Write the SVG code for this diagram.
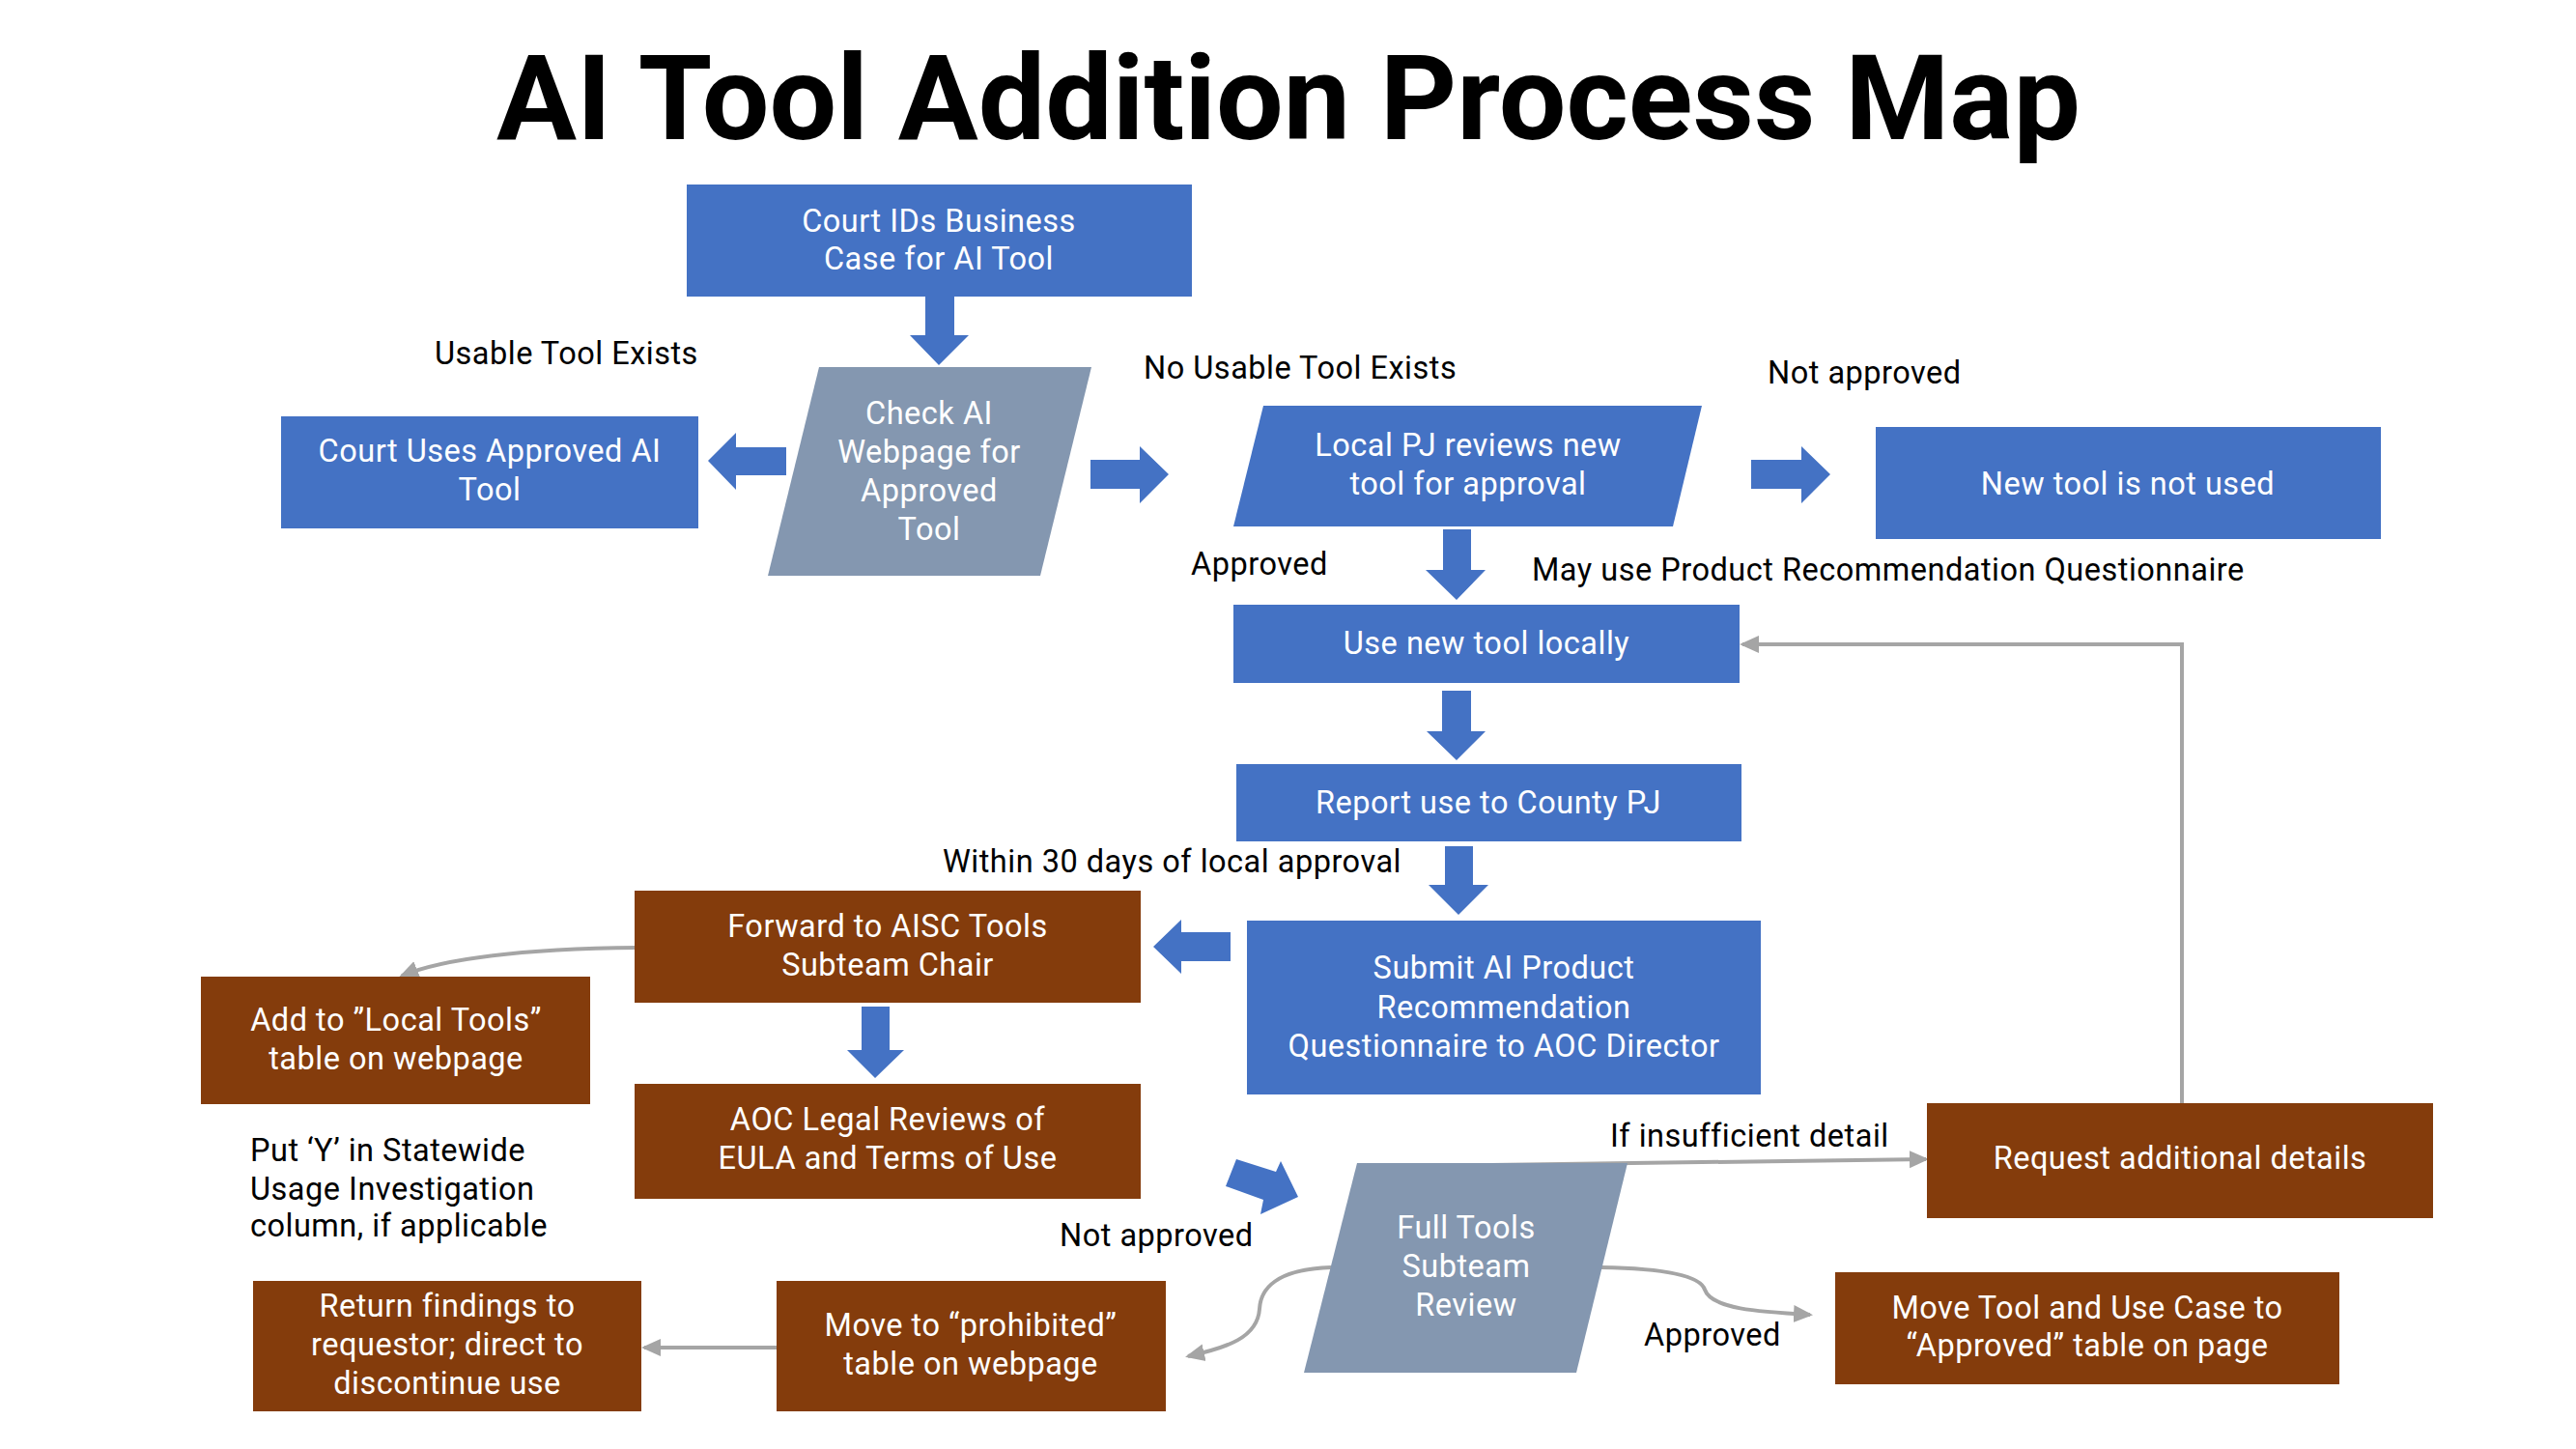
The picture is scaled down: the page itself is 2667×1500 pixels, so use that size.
<svg xmlns="http://www.w3.org/2000/svg" width="2667" height="1500" viewBox="0 0 2667 1500">
<defs>
<style>
.blue{fill:#4472C4}
.brown{fill:#843C0C}
.grayn{fill:#8497B0}
.t{font-family:Roboto,"Liberation Sans",sans-serif;font-size:32.5px;letter-spacing:0.5px;fill:#FFFFFF;text-anchor:middle}
.lbl{font-family:Roboto,"Liberation Sans",sans-serif;font-size:32.5px;letter-spacing:0.5px;fill:#000000}
.title{font-family:Roboto,"Liberation Sans",sans-serif;font-weight:bold;font-size:122px;fill:#000000;text-anchor:middle}
.blk{fill:#4472C4}
.conn{stroke:#A5A5A5;stroke-width:4;fill:none;marker-end:url(#ah)}
</style>
<marker id="ah" markerUnits="userSpaceOnUse" viewBox="0 0 20 20" markerWidth="20" markerHeight="20" refX="17" refY="10" orient="auto">
<path d="M0,1 L20,10 L0,19 z" fill="#A5A5A5"/>
</marker>
</defs>
<rect width="2667" height="1500" fill="#FFFFFF"/>
<text class="title" x="1334" y="144" textLength="1640" lengthAdjust="spacingAndGlyphs">AI Tool Addition Process Map</text>

<g id="connectors">
<polygon class="blk" points="958,307 988,307 988,347 1003,347 972,378 942,347 958,347"/>
<polygon class="blk" points="814,463 814,492 762,492 762,507 733,477 762,448 762,463"/>
<polygon class="blk" points="1129,476 1180,476 1180,462 1210,491 1180,521 1180,506 1129,506"/>
<polygon class="blk" points="1813,476 1865,476 1865,462 1895,491 1865,521 1865,506 1813,506"/>
<polygon class="blk" points="1494,548 1523,548 1523,590 1538,590 1508,621 1476,590 1494,590"/>
<polygon class="blk" points="1493,715 1523,715 1523,757 1538,757 1508,787 1477,757 1493,757"/>
<polygon class="blk" points="1496,876 1525,876 1525,916 1541,916 1510,947 1479,916 1496,916"/>
<polygon class="blk" points="1274,965 1274,995 1223,995 1223,1008 1194,980 1223,952 1223,965"/>
<polygon class="blk" points="892,1042 921,1042 921,1087 936,1087 906,1116 877,1087 892,1087"/>
<polygon class="blk" points="1280,1200 1321,1213 1326,1202 1344,1239 1305,1257 1308,1242 1269,1228"/>
<path class="conn" d="M2259,1142 V667 H1804"/>
<path class="conn" d="M1544,1206 L1994,1200"/>
<path class="conn" d="M660,981 C560,982 465,990 416,1010"/>
<path class="conn" d="M1658,1312 C1720,1313 1760,1320 1765,1335 C1772,1355 1820,1358 1874,1361"/>
<path class="conn" d="M1378,1312 C1320,1314 1305,1335 1304,1355 C1302,1385 1270,1395 1230,1404"/>
<path class="conn" d="M804,1395 H667"/>
</g>

<g id="court-ids">
<rect class="blue" x="711" y="191" width="523" height="116"/>
<text class="t" x="972" y="240">Court IDs Business</text>
<text class="t" x="972" y="279">Case for AI Tool</text>
</g>
<g id="check-webpage">
<polygon class="grayn" points="848,380 1130,380 1077,596 795,596"/>
<text class="t" x="962" y="439">Check AI</text>
<text class="t" x="962" y="479">Webpage for</text>
<text class="t" x="962" y="519">Approved</text>
<text class="t" x="962" y="559">Tool</text>
</g>
<g id="court-uses">
<rect class="blue" x="291" y="431" width="432" height="116"/>
<text class="t" x="507" y="478">Court Uses Approved AI</text>
<text class="t" x="507" y="518">Tool</text>
</g>
<g id="local-pj">
<polygon class="blue" points="1308,420 1762,420 1732,545 1277,545"/>
<text class="t" x="1520" y="472">Local PJ reviews new</text>
<text class="t" x="1520" y="512">tool for approval</text>
</g>
<g id="not-used">
<rect class="blue" x="1942" y="442" width="523" height="116"/>
<text class="t" x="2203" y="512">New tool is not used</text>
</g>
<g id="use-locally">
<rect class="blue" x="1277" y="626" width="524" height="81"/>
<text class="t" x="1539" y="677">Use new tool locally</text>
</g>
<g id="report">
<rect class="blue" x="1280" y="791" width="523" height="80"/>
<text class="t" x="1541" y="842">Report use to County PJ</text>
</g>
<g id="submit">
<rect class="blue" x="1291" y="953" width="532" height="180"/>
<text class="t" x="1557" y="1013">Submit AI Product</text>
<text class="t" x="1557" y="1054">Recommendation</text>
<text class="t" x="1557" y="1094">Questionnaire to AOC Director</text>
</g>
<g id="forward">
<rect class="brown" x="657" y="922" width="524" height="116"/>
<text class="t" x="919" y="970">Forward to AISC Tools</text>
<text class="t" x="919" y="1010">Subteam Chair</text>
</g>
<g id="add-local">
<rect class="brown" x="208" y="1011" width="403" height="132"/>
<text class="t" x="410" y="1067">Add to ”Local Tools”</text>
<text class="t" x="410" y="1107">table on webpage</text>
</g>
<g id="aoc-legal">
<rect class="brown" x="657" y="1122" width="524" height="119"/>
<text class="t" x="919" y="1170">AOC Legal Reviews of</text>
<text class="t" x="919" y="1210">EULA and Terms of Use</text>
</g>
<g id="full-tools">
<polygon class="grayn" points="1405,1204 1685,1204 1632,1421 1350,1421"/>
<text class="t" x="1518" y="1282">Full Tools</text>
<text class="t" x="1518" y="1322">Subteam</text>
<text class="t" x="1518" y="1362">Review</text>
</g>
<g id="request">
<rect class="brown" x="1995" y="1142" width="524" height="119"/>
<text class="t" x="2257" y="1210">Request additional details</text>
</g>
<g id="move-approved">
<rect class="brown" x="1900" y="1317" width="522" height="116"/>
<text class="t" x="2161" y="1365">Move Tool and Use Case to</text>
<text class="t" x="2161" y="1404">“Approved” table on page</text>
</g>
<g id="move-prohibited">
<rect class="brown" x="804" y="1326" width="403" height="135"/>
<text class="t" x="1005" y="1383">Move to “prohibited”</text>
<text class="t" x="1005" y="1423">table on webpage</text>
</g>
<g id="return-findings">
<rect class="brown" x="262" y="1326" width="402" height="135"/>
<text class="t" x="463" y="1363">Return findings to</text>
<text class="t" x="463" y="1403">requestor; direct to</text>
<text class="t" x="463" y="1443">discontinue use</text>
</g>

<g id="labels">
<text class="lbl" x="450" y="377">Usable Tool Exists</text>
<text class="lbl" x="1184" y="392">No Usable Tool Exists</text>
<text class="lbl" x="1830" y="397">Not approved</text>
<text class="lbl" x="1233" y="595">Approved</text>
<text class="lbl" x="1586" y="601">May use Product Recommendation Questionnaire</text>
<text class="lbl" x="976" y="903">Within 30 days of local approval</text>
<text class="lbl" x="259" y="1202">Put ‘Y’ in Statewide</text>
<text class="lbl" x="259" y="1242">Usage Investigation</text>
<text class="lbl" x="259" y="1280">column, if applicable</text>
<text class="lbl" x="1097" y="1290">Not approved</text>
<text class="lbl" x="1667" y="1187">If insufficient detail</text>
<text class="lbl" x="1702" y="1393">Approved</text>
</g>
</svg>
